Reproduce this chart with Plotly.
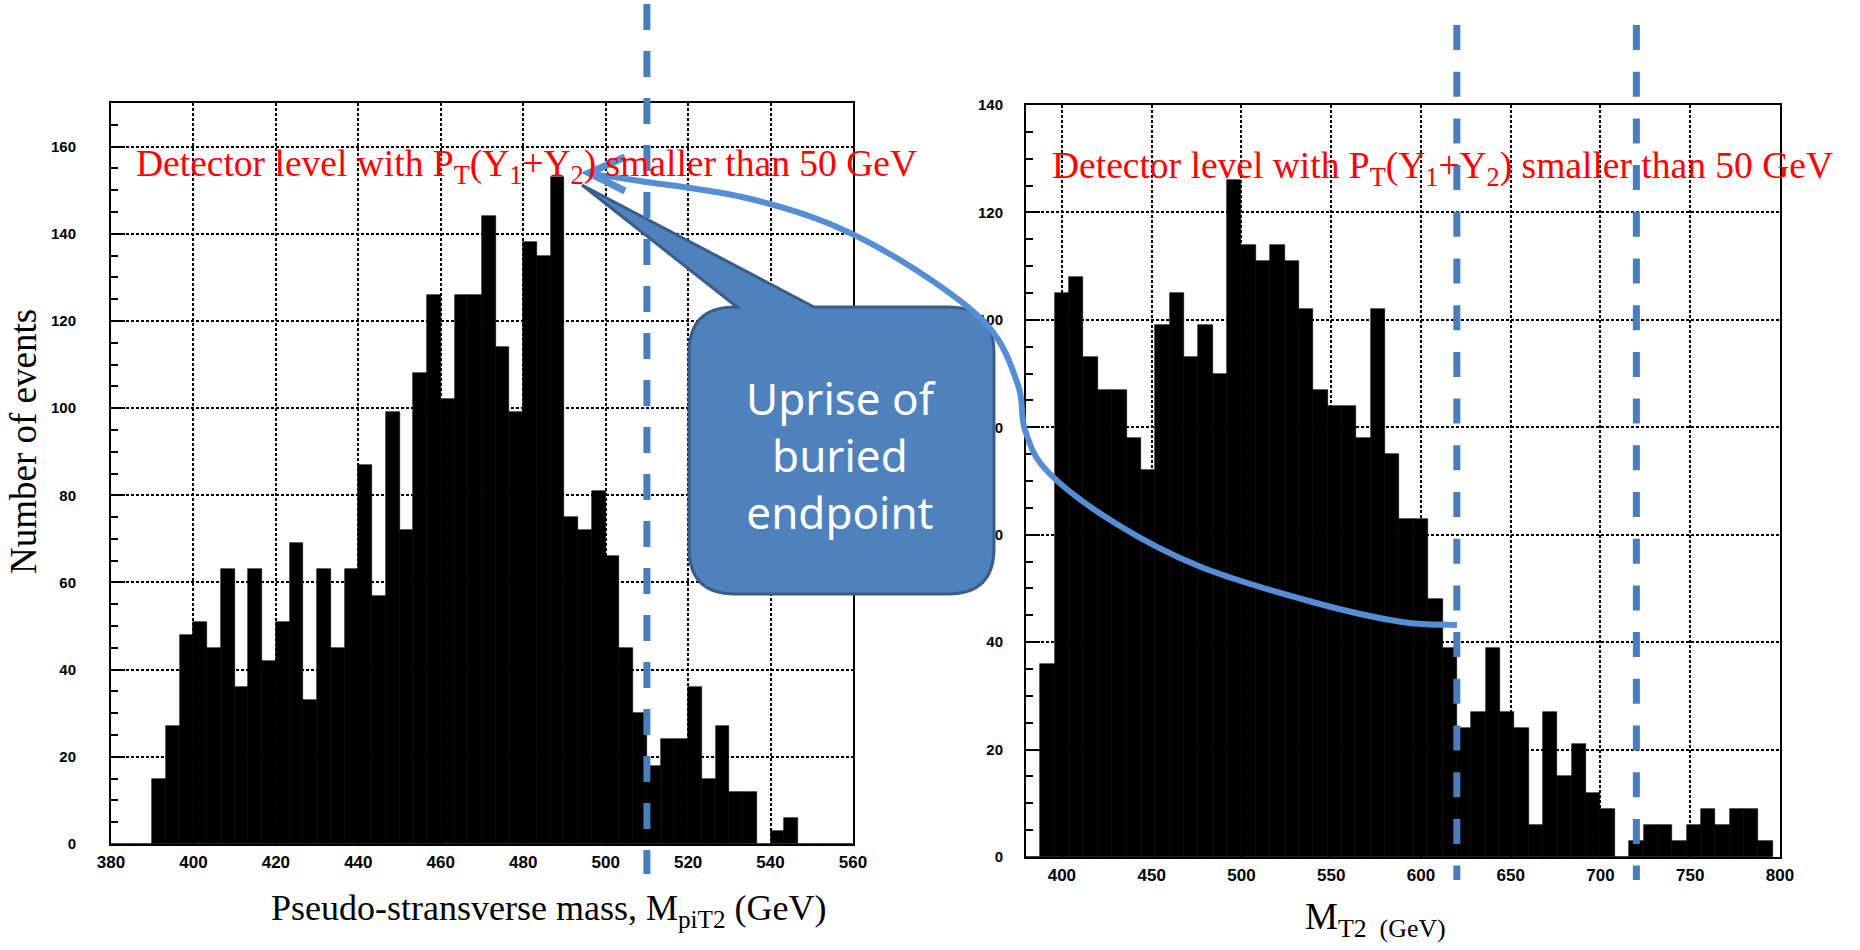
import numpy as np
import plotly.graph_objects as go

W, H = 1860, 950

# ---------------- data ----------------
left_bin_start = 380.0
left_bin_width = 10.0 / 3.0
left_counts = [0, 0, 0,
               15, 27, 48, 51, 45, 63, 36, 63, 42, 51,
               69, 33, 63, 45, 63, 87, 57, 99, 72, 108,
               126, 102, 126, 126, 144, 114, 99, 138, 135, 153,
               75, 72, 81, 66, 45, 30, 18, 24, 24, 36,
               15, 27, 12, 12, 0, 3, 6, 0, 0, 0, 0]

right_bin_start = 380.0
right_bin_width = 8.0
right_counts = [0, 36, 105, 108, 93, 87, 87, 78, 72, 99,
                105, 93, 99, 90, 126, 114, 111, 114, 111, 102,
                87, 84, 84, 78, 102, 75, 63, 63, 48, 39,
                24, 27, 39, 27, 24, 6, 27, 15, 21, 12,
                9, 0, 3, 6, 6, 3, 6, 9, 6, 9,
                9, 3]

left_endpoints = [510]
right_endpoints = [620, 720]

left_xrange = [380, 560]
left_yrange = [0, 170]
right_xrange = [380, 800]
right_yrange = [0, 140]

label_text = "Detector level with P<sub>T</sub>(Y<sub>1</sub>+Y<sub>2</sub>) smaller than 50 GeV"
callout_text = "Uprise of<br>buried<br>endpoint"

# ---------------- helpers ----------------
def px(x):
    return x / W

def py(y):
    return 1 - y / H

def centers(start, width, n):
    return [start + width * (i + 0.5) for i in range(n)]

fig = go.Figure()

fig.add_trace(go.Bar(
    x=centers(left_bin_start, left_bin_width, len(left_counts)), y=left_counts,
    width=left_bin_width, marker=dict(color="black", line=dict(color="black", width=0.6)),
    xaxis="x", yaxis="y", showlegend=False, hoverinfo="x+y"))

fig.add_trace(go.Bar(
    x=centers(right_bin_start, right_bin_width, len(right_counts)), y=right_counts,
    width=right_bin_width, marker=dict(color="black", line=dict(color="black", width=0.6)),
    xaxis="x2", yaxis="y2", showlegend=False, hoverinfo="x+y"))

tickfont_x = dict(family="Liberation Sans", size=17, color="black", weight=700)
tickfont_y = dict(family="Liberation Sans", size=15, color="black", weight=700)
grid = dict(showgrid=True, gridcolor="black", gridwidth=2, griddash="3px,2px")
frame = dict(showline=True, mirror=True, linecolor="black", linewidth=2, zeroline=False,
             automargin=False)

fig.update_layout(
    width=W, height=H,
    margin=dict(l=0, r=0, t=0, b=0, autoexpand=False),
    paper_bgcolor="white", plot_bgcolor="white",
    bargap=0, showlegend=False,
    xaxis=dict(domain=[px(111), px(853)], range=left_xrange, tick0=380, dtick=20,
               ticks="", tickfont=tickfont_x, ticklabelstandoff=2, anchor="y", **grid, **frame),
    yaxis=dict(domain=[py(844), py(103)], range=left_yrange, tick0=0, dtick=20,
               ticks="inside", ticklen=14, tickwidth=2, tickcolor="black",
               minor=dict(dtick=5, ticks="inside", ticklen=7, tickwidth=2, tickcolor="black", showgrid=False),
               tickfont=tickfont_y, ticklabelstandoff=30, anchor="x", **grid, **frame),
    xaxis2=dict(domain=[px(1026), px(1780)], range=right_xrange, tick0=400, dtick=50,
                ticks="", tickfont=tickfont_x, ticklabelstandoff=2, anchor="y2", **grid, **frame),
    yaxis2=dict(domain=[py(857), py(105)], range=right_yrange, tick0=0, dtick=20,
                ticks="inside", ticklen=14, tickwidth=2, tickcolor="black",
                minor=dict(dtick=5, ticks="inside", ticklen=7, tickwidth=2, tickcolor="black", showgrid=False),
                tickfont=tickfont_y, ticklabelstandoff=18, anchor="x2", **grid, **frame),
)

shapes = []

# callout box with pointer
x0, x1, y0, y1, r = 689, 994, 307, 594, 46
bl, br = 737, 814
tip = (582, 185)
pts = [
    f"M{px(x0 + r)},{py(y0)}",
    f"L{px(bl)},{py(y0)}",
    f"L{px(tip[0])},{py(tip[1])}",
    f"L{px(br)},{py(y0)}",
    f"L{px(x1 - r)},{py(y0)}",
    f"Q{px(x1)},{py(y0)} {px(x1)},{py(y0 + r)}",
    f"L{px(x1)},{py(y1 - r)}",
    f"Q{px(x1)},{py(y1)} {px(x1 - r)},{py(y1)}",
    f"L{px(x0 + r)},{py(y1)}",
    f"Q{px(x0)},{py(y1)} {px(x0)},{py(y1 - r)}",
    f"L{px(x0)},{py(y0 + r)}",
    f"Q{px(x0)},{py(y0)} {px(x0 + r)},{py(y0)}",
    "Z",
]
shapes.append(dict(type="path", xref="paper", yref="paper", path=" ".join(pts),
                   fillcolor="#4F81BD", line=dict(color="#385D8A", width=3), layer="above"))

# endpoint dashed lines (drawn top -> bottom so the dash pattern starts at the top)
dash_blue = "#4A7EBB"
for v in left_endpoints:
    shapes.append(dict(type="line", xref="x", yref="paper", x0=v, x1=v, y0=py(4), y1=py(874),
                       line=dict(color=dash_blue, width=7, dash="26px,21px"), layer="above"))
for v in right_endpoints:
    shapes.append(dict(type="line", xref="x2", yref="paper", x0=v, x1=v, y0=py(25), y1=py(880),
                       line=dict(color=dash_blue, width=7, dash="25px,21.7px"), layer="above"))

# curved arrow (Catmull-Rom -> Bezier)
cpts = [(1457, 625), (1402, 622), (1316, 603), (1201, 567), (1115, 523), (1048, 472),
        (1025, 430), (1018, 385), (988, 326), (916, 270), (830, 224), (742, 197),
        (640, 181), (592, 174)]
p = np.array(cpts, dtype=float)
path = [f"M{px(p[0][0])},{py(p[0][1])}"]
for i in range(len(p) - 1):
    pm = p[i - 1] if i > 0 else p[i]
    pn = p[i + 2] if i + 2 < len(p) else p[i + 1]
    c1 = p[i] + (p[i + 1] - pm) / 6
    c2 = p[i + 1] - (pn - p[i]) / 6
    path.append(f"C{px(c1[0])},{py(c1[1])} {px(c2[0])},{py(c2[1])} {px(p[i+1][0])},{py(p[i+1][1])}")
arrow_blue = "#558ED5"
shapes.append(dict(type="path", xref="paper", yref="paper", path=" ".join(path),
                   line=dict(color=arrow_blue, width=6), layer="above"))
shapes.append(dict(type="path", xref="paper", yref="paper",
                   path=f"M{px(625)},{py(157)} L{px(589)},{py(173)} L{px(625)},{py(191)}",
                   line=dict(color=arrow_blue, width=7), layer="above"))

fig.update_layout(shapes=shapes)

serif = "Liberation Serif"
ann = []
ann.append(dict(xref="paper", yref="paper", x=px(134), y=py(166), xanchor="left", yanchor="middle",
                text=label_text, showarrow=False,
                font=dict(family=serif, size=37.5, color="#FF0000")))
ann.append(dict(xref="paper", yref="paper", x=px(1050), y=py(168), xanchor="left", yanchor="middle",
                text=label_text, showarrow=False,
                font=dict(family=serif, size=37.5, color="#FF0000")))
ann.append(dict(xref="paper", yref="paper", x=px(841), y=py(455), xanchor="center", yanchor="middle",
                text=callout_text, showarrow=False, align="center",
                font=dict(family="Noto Sans", size=44, color="white")))
ann.append(dict(xref="paper", yref="paper", x=px(23), y=py(442), xanchor="center", yanchor="middle",
                text="Number of events", textangle=-90, showarrow=False,
                font=dict(family=serif, size=37, color="black")))
ann.append(dict(xref="paper", yref="paper", x=px(548), y=py(910), xanchor="center", yanchor="middle",
                text="Pseudo-stransverse mass, M<sub>piT2</sub> (GeV)", showarrow=False,
                font=dict(family=serif, size=36, color="black")))
ann.append(dict(xref="paper", yref="paper", x=px(1375), y=py(919), xanchor="center", yanchor="middle",
                text="M<sub>T2  (GeV)</sub>", showarrow=False,
                font=dict(family=serif, size=37, color="black")))
fig.update_layout(annotations=ann)

fig.write_html("out.html", config={"displayModeBar": False},
               post_script="document.body.style.margin='0';document.body.style.overflow='hidden';")
